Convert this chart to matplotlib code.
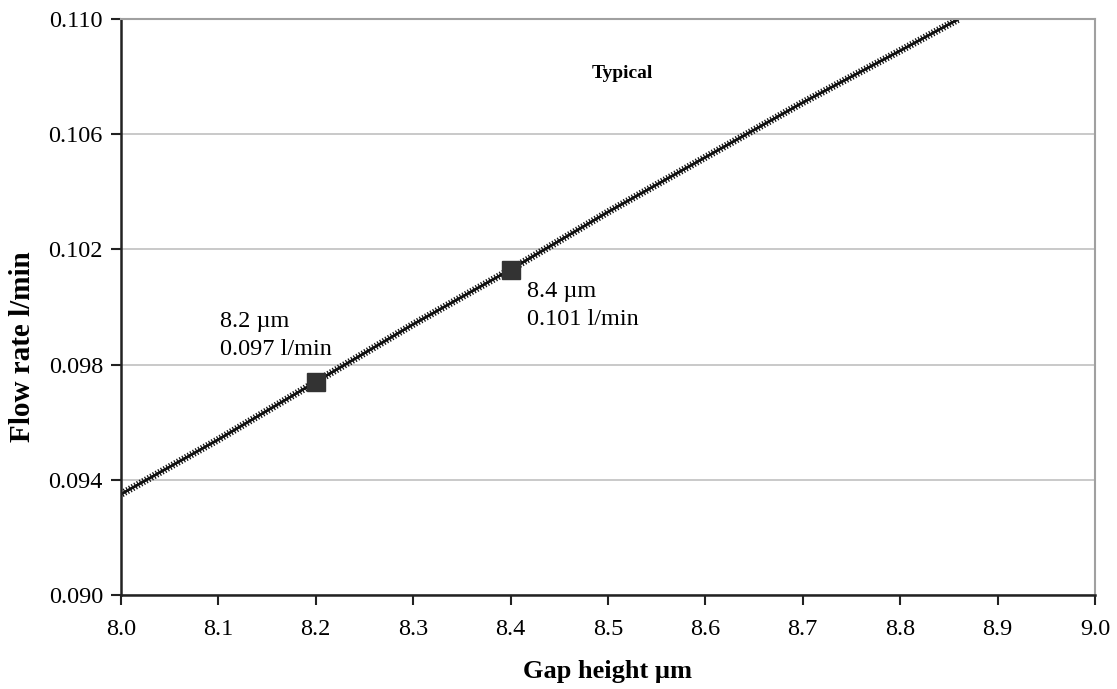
import matplotlib
matplotlib.use("Agg")
import matplotlib.pyplot as plt
from matplotlib import patheffects as pe

plt.rcParams['font.family'] = ['Liberation Serif', 'DejaVu Serif']

# data
gap_um = [8.0, 8.1, 8.2, 8.3, 8.4, 8.5, 8.6, 8.7, 8.8, 8.86]
flow_lpm = [0.0935, 0.0954, 0.0974, 0.0994, 0.1013, 0.1033, 0.1052, 0.1071, 0.1089, 0.1100]
marked_gap = [8.2, 8.4]
marked_flow = [0.0974, 0.1013]
marked_labels = ["8.2 \u00b5m\n0.097 l/min", "8.4 \u00b5m\n0.101 l/min"]
x_ticks = [8.0, 8.1, 8.2, 8.3, 8.4, 8.5, 8.6, 8.7, 8.8, 8.9, 9.0]
y_ticks = [0.090, 0.094, 0.098, 0.102, 0.106, 0.110]

fig = plt.figure(figsize=(11.17, 6.89), dpi=100)
ax = fig.add_axes([0.1083, 0.1364, 0.872, 0.836])

ax.set_xlim(8.0, 9.0)
ax.set_ylim(0.090, 0.110)
ax.set_yticks(y_ticks)
ax.set_xticks(x_ticks)
ax.set_yticklabels([f"{v:.3f}" for v in y_ticks])
ax.set_xticklabels([f"{v:.1f}" for v in x_ticks])
ax.yaxis.grid(True, color='#c0c0c0', linewidth=1.2)
ax.set_axisbelow(True)

for s in ['left', 'bottom']:
    ax.spines[s].set_color('#222222')
    ax.spines[s].set_linewidth(1.8)
for s in ['top', 'right']:
    ax.spines[s].set_color('#a0a0a0')
    ax.spines[s].set_linewidth(1.5)

ax.tick_params(axis='both', direction='out', length=7, width=1.5, color='#222222',
               labelsize=17.5, pad=6)
ax.tick_params(axis='x', pad=10)

ax.plot(gap_um, flow_lpm, color='#111111', linewidth=1.6, clip_on=True,
        path_effects=[pe.withTickedStroke(spacing=2.2, angle=90, length=1.0, linewidth=0.9),
                      pe.withTickedStroke(spacing=2.2, angle=-90, length=1.0, linewidth=0.9),
                      pe.Normal()])

ax.plot(marked_gap, marked_flow, linestyle='none', marker='s', markersize=13,
        color='#333333', zorder=5)

ax.text(8.1016, 0.09901, marked_labels[0], fontsize=17.5, va='center', ha='left', linespacing=1.4)
ax.text(8.417, 0.10005, marked_labels[1], fontsize=17.5, va='center', ha='left', linespacing=1.4)

ax.text(8.515, 0.1081, "Typical", fontsize=14, fontweight='bold', ha='center', va='center')

ax.set_xlabel("Gap height \u00b5m", fontsize=19, fontweight='bold', va='center')
ax.xaxis.set_label_coords(0.5, -0.133)
ax.set_ylabel("Flow rate l/min", fontsize=21, fontweight='bold', va='center')
ax.yaxis.set_label_coords(-0.101, 0.432)

fig.savefig("out.png", dpi=100)
